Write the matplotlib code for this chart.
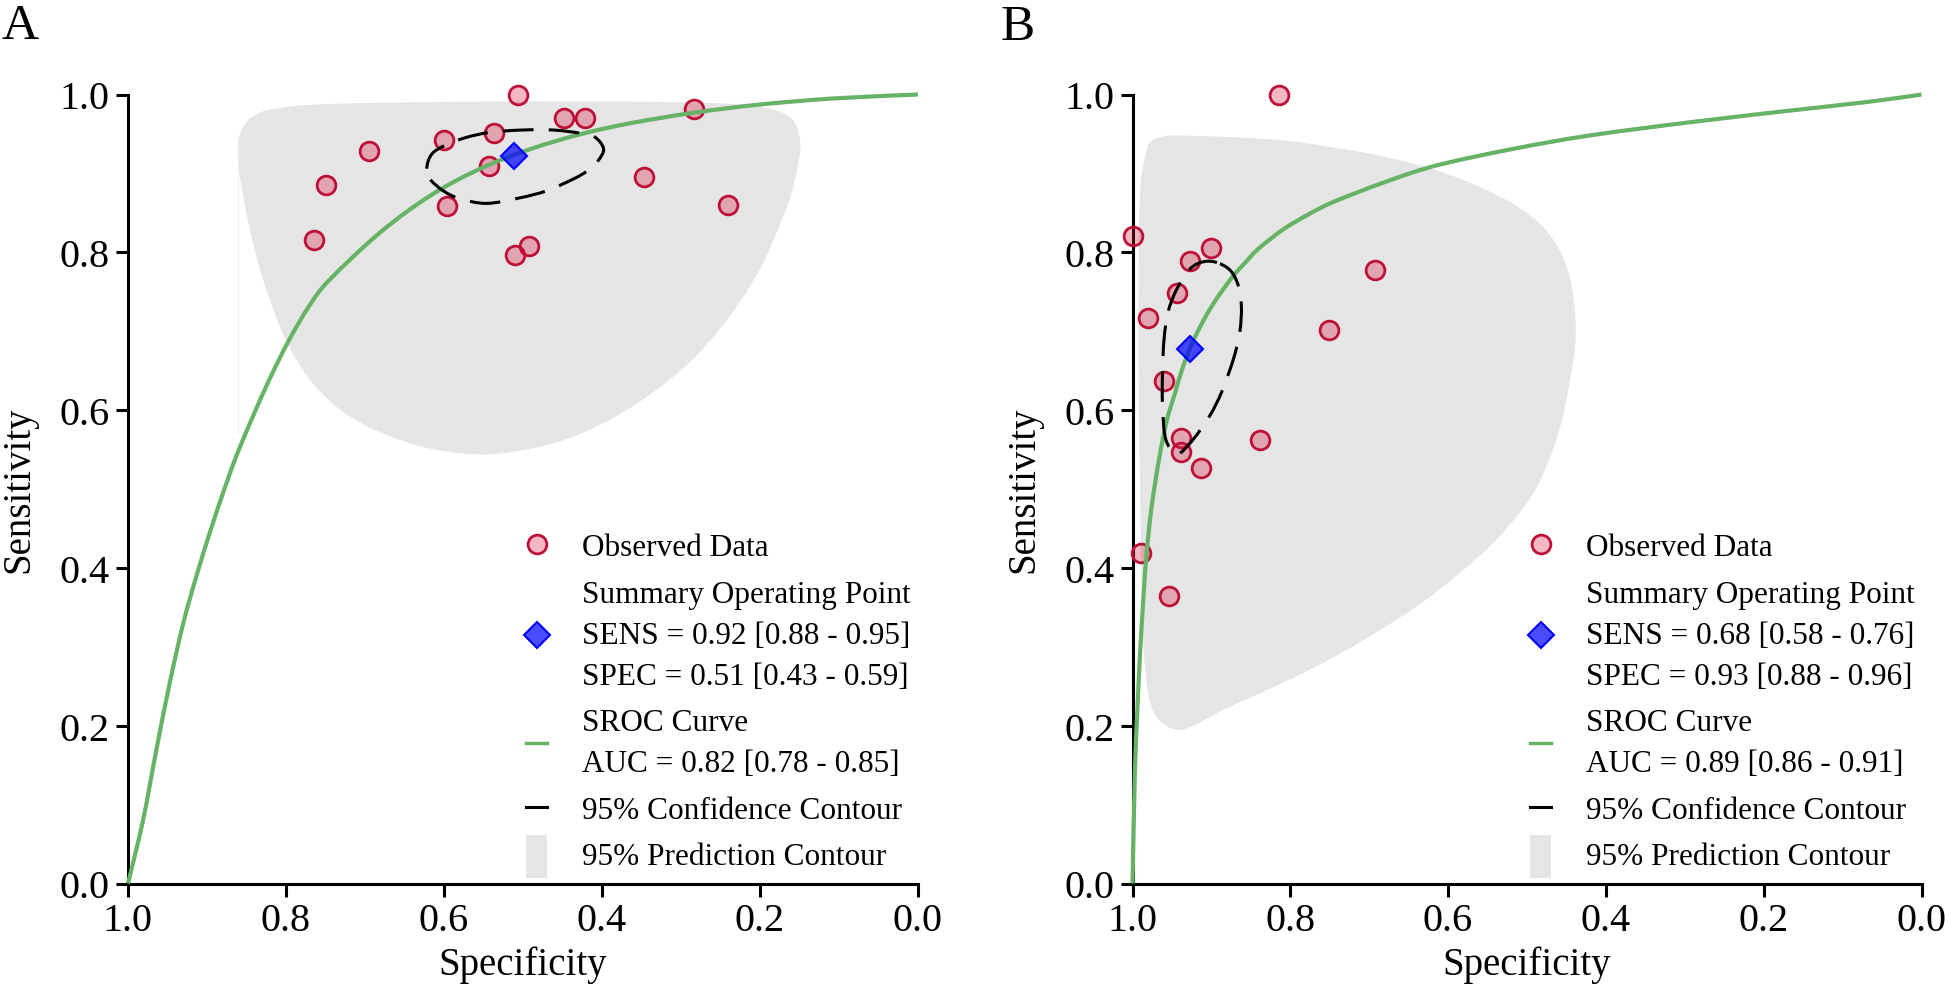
import matplotlib
matplotlib.use('Agg')
import numpy as np
from matplotlib import pyplot as plt
from matplotlib.lines import Line2D
from matplotlib.path import Path
from matplotlib.patches import Patch, PathPatch, Rectangle
from matplotlib.legend_handler import HandlerPatch

plt.rcParams['font.family'] = ['Liberation Serif', 'DejaVu Serif']

# ---------------- panel A data ----------------
obs_spec_a = [0.506, 0.448, 0.422, 0.283, 0.600, 0.537, 0.695, 0.750,
              0.765, 0.543, 0.596, 0.347, 0.240, 0.510, 0.492]
obs_sens_a = [1.000, 0.970, 0.970, 0.981, 0.942, 0.951, 0.928, 0.885,
              0.815, 0.910, 0.859, 0.895, 0.860, 0.797, 0.808]
summary_a = (0.511, 0.922)

sroc_spec_a = [1.0, 0.981, 0.964, 0.947, 0.930, 0.913, 0.896, 0.879, 0.862,
               0.841, 0.820, 0.796, 0.770, 0.745, 0.681, 0.617, 0.554, 0.490,
               0.426, 0.362, 0.283, 0.203, 0.107, 0.0]
sroc_sens_a = [0.0, 0.080, 0.170, 0.255, 0.330, 0.391, 0.446, 0.497, 0.544,
               0.594, 0.641, 0.689, 0.733, 0.765, 0.825, 0.872, 0.906, 0.931,
               0.950, 0.964, 0.977, 0.987, 0.995, 1.0]

conf_spec_a = [0.622, 0.613, 0.580, 0.542, 0.500, 0.462, 0.428, 0.409, 0.398,
               0.405, 0.419, 0.436, 0.470, 0.504, 0.546, 0.580, 0.601, 0.618]
conf_sens_a = [0.906, 0.927, 0.943, 0.952, 0.955, 0.955, 0.951, 0.946, 0.931,
               0.916, 0.903, 0.893, 0.878, 0.869, 0.862, 0.868, 0.878, 0.893]

pred_spec_a = [0.815, 0.745, 0.554, 0.362, 0.235, 0.184, 0.158, 0.149, 0.152,
               0.161, 0.177, 0.200, 0.232, 0.273, 0.324, 0.388, 0.458, 0.541,
               0.617, 0.681, 0.732, 0.770, 0.799, 0.821, 0.839, 0.852, 0.860,
               0.860, 0.850, 0.837]
pred_sens_a = [0.982, 0.988, 0.991, 0.991, 0.988, 0.981, 0.967, 0.939, 0.910,
               0.872, 0.830, 0.779, 0.728, 0.677, 0.631, 0.589, 0.559, 0.544,
               0.551, 0.572, 0.601, 0.639, 0.686, 0.741, 0.800, 0.859, 0.910,
               0.944, 0.965, 0.975]

labels_a = ['Observed Data',
            'Summary Operating Point\nSENS = 0.92 [0.88 - 0.95]\nSPEC = 0.51 [0.43 - 0.59]',
            'SROC Curve\nAUC = 0.82 [0.78 - 0.85]',
            '95% Confidence Contour',
            '95% Prediction Contour']

# ---------------- panel B data ----------------
obs_spec_b = [0.814, 1.000, 0.900, 0.927, 0.693, 0.944, 0.980, 0.751,
              0.960, 0.938, 0.939, 0.838, 0.913, 0.989, 0.954]
obs_sens_b = [1.000, 0.821, 0.805, 0.789, 0.778, 0.748, 0.717, 0.702,
              0.637, 0.565, 0.547, 0.562, 0.527, 0.419, 0.365]
summary_b = (0.927, 0.677)

sroc_spec_b = [1.0, 0.997, 0.994, 0.9905, 0.986, 0.982, 0.976, 0.967, 0.957,
               0.946, 0.937, 0.922, 0.900, 0.874, 0.857, 0.841, 0.809, 0.777,
               0.745, 0.680, 0.615, 0.518, 0.421, 0.292, 0.163, 0.065, 0.0]
sroc_sens_b = [0.0, 0.140, 0.215, 0.290, 0.365, 0.420, 0.476, 0.534, 0.585,
               0.622, 0.652, 0.690, 0.731, 0.768, 0.787, 0.804, 0.829, 0.848,
               0.864, 0.889, 0.910, 0.931, 0.948, 0.965, 0.980, 0.991, 1.0]

conf_spec_b = [0.893, 0.910, 0.927, 0.944, 0.955, 0.960, 0.962, 0.962, 0.959,
               0.952, 0.942, 0.923, 0.902, 0.887, 0.872, 0.864, 0.862, 0.866,
               0.876]
conf_sens_b = [0.787, 0.788, 0.779, 0.753, 0.724, 0.690, 0.648, 0.606, 0.568,
               0.551, 0.544, 0.563, 0.593, 0.623, 0.665, 0.699, 0.732, 0.758,
               0.777]

pred_spec_b = [0.977, 0.960, 0.939, 0.874, 0.809, 0.745, 0.680, 0.615, 0.551,
               0.499, 0.466, 0.447, 0.439, 0.439, 0.447, 0.455, 0.467, 0.490,
               0.524, 0.566, 0.629, 0.693, 0.756, 0.819, 0.883, 0.933, 0.959,
               0.976, 0.984, 0.988, 0.9905, 0.9926, 0.992, 0.990, 0.984]
pred_sens_b = [0.940, 0.947, 0.948, 0.946, 0.942, 0.933, 0.921, 0.904, 0.879,
               0.849, 0.815, 0.773, 0.722, 0.680, 0.629, 0.590, 0.550, 0.498,
               0.452, 0.410, 0.359, 0.317, 0.281, 0.250, 0.221, 0.196, 0.201,
               0.224, 0.271, 0.348, 0.503, 0.659, 0.814, 0.883, 0.922]

labels_b = ['Observed Data',
            'Summary Operating Point\nSENS = 0.68 [0.58 - 0.76]\nSPEC = 0.93 [0.88 - 0.96]',
            'SROC Curve\nAUC = 0.89 [0.86 - 0.91]',
            '95% Confidence Contour',
            '95% Prediction Contour']

ticks = [0.0, 0.2, 0.4, 0.6, 0.8, 1.0]

# styles
gray = '#e5e5e5'
green = '#66b366'
point_edge = '#be0f37'
point_face = (0.86, 0.08, 0.24, 0.3)
diamond_face = (0.0, 0.0, 1.0, 0.7)
FS_TICK = 29
FS_LABEL = 28
FS_LEG = 22.5


def smooth_path(xs, ys, closed=False):
    """Bezier path through the read points (Catmull-Rom tangents)."""
    pts = np.column_stack([xs, ys]).astype(float)
    n = len(pts)
    verts = [pts[0]]
    codes = [Path.MOVETO]
    n_seg = n if closed else n - 1
    for i in range(n_seg):
        p1 = pts[i]
        p2 = pts[(i + 1) % n]
        if closed:
            p0 = pts[i - 1]
            p3 = pts[(i + 2) % n]
        else:
            p0 = pts[max(i - 1, 0)]
            p3 = pts[min(i + 2, n - 1)]
        verts += [p1 + (p2 - p0) / 6.0, p2 - (p3 - p1) / 6.0, p2]
        codes += [Path.CURVE4] * 3
    if closed:
        verts.append(pts[0])
        codes.append(Path.CLOSEPOLY)
    return Path(np.array(verts), codes)


def tall_rect(legend, orig_handle, xdescent, ydescent, width, height, fontsize):
    h = 1.39 * fontsize
    return Rectangle((-xdescent, -ydescent + height / 2 - h / 2 - 2), width, h)


def draw_panel(ax, obs_spec, obs_sens, summary, sroc_spec, sroc_sens,
               conf_spec, conf_sens, pred_spec, pred_sens, labels):
    # prediction contour
    ax.add_patch(PathPatch(smooth_path(pred_spec, pred_sens, closed=True),
                           facecolor=gray, edgecolor='none', zorder=1))
    # observed data
    ax.plot(obs_spec, obs_sens, ls='none', marker='o', ms=13.5, mfc=point_face,
            mec=point_edge, mew=2.0, zorder=3, clip_on=False)
    # SROC curve
    ax.add_patch(PathPatch(smooth_path(sroc_spec, sroc_sens), fill=False,
                           edgecolor=green, lw=3.0, zorder=4, clip_on=False,
                           capstyle='butt'))
    # confidence contour
    ax.add_patch(PathPatch(smooth_path(conf_spec, conf_sens, closed=True),
                           fill=False, edgecolor='black', lw=2.2,
                           linestyle=(0, (10, 5)), zorder=5))
    # summary point
    ax.plot([summary[0]], [summary[1]], ls='none', marker='D', ms=13.5,
            mfc=diamond_face, mec='blue', mew=1.5, zorder=6, clip_on=False)

    ax.set_xlim(1.0, 0.0)
    ax.set_ylim(0.0, 1.0)
    ax.set_xticks(ticks)
    ax.set_yticks(ticks)
    ax.set_xticklabels([f'{t:.1f}' for t in ticks])
    ax.set_yticklabels([f'{t:.1f}' for t in ticks])
    ax.tick_params(direction='out', length=9, width=2.2, labelsize=FS_TICK, pad=4)
    for side in ['top', 'right']:
        ax.spines[side].set_visible(False)
    for side in ['left', 'bottom']:
        ax.spines[side].set_linewidth(2.2)
    ax.set_xlabel('Specificity', fontsize=FS_LABEL, labelpad=5)
    ax.set_ylabel('Sensitivity', fontsize=FS_LABEL, labelpad=16)

    handles = [
        Line2D([], [], ls='none', marker='o', ms=13.5, mfc=point_face,
               mec=point_edge, mew=2.0),
        Line2D([], [], ls='none', marker='D', ms=13.5, mfc=diamond_face,
               mec='blue', mew=1.5),
        Line2D([], [], color=green, lw=2.5),
        Line2D([], [], color='black', lw=2.2),
        Patch(facecolor=gray, edgecolor='none'),
    ]
    leg = ax.legend(handles, labels, loc='upper left', bbox_to_anchor=(0.504, 0.444),
                    frameon=False, fontsize=FS_LEG, handlelength=0.67,
                    handletextpad=1.12, labelspacing=0.56, borderpad=0,
                    borderaxespad=0, numpoints=1,
                    handler_map={Patch: HandlerPatch(patch_func=tall_rect)})
    for t in leg.get_texts():
        t.set_linespacing(1.55)


fig = plt.figure(figsize=(19.45, 9.87), dpi=100)
ax_a = fig.add_axes([128 / 1945, 1 - 884.5 / 987, 790 / 1945, 789 / 987])
ax_b = fig.add_axes([1132.5 / 1945, 1 - 884.5 / 987, 789 / 1945, 789 / 987])

draw_panel(ax_a, obs_spec_a, obs_sens_a, summary_a, sroc_spec_a, sroc_sens_a,
           conf_spec_a, conf_sens_a, pred_spec_a, pred_sens_a, labels_a)
# faint vertical artefact at the left edge of the prediction region
ax_a.plot([0.861, 0.861], [0.94, 0.571], color='#ededed', lw=0.8, zorder=1)
draw_panel(ax_b, obs_spec_b, obs_sens_b, summary_b, sroc_spec_b, sroc_sens_b,
           conf_spec_b, conf_sens_b, pred_spec_b, pred_sens_b, labels_b)

fig.text(2 / 1945, 1 - 39 / 987, 'A', fontsize=37, ha='left', va='baseline')
fig.text(1000.5 / 1945, 1 - 40 / 987, 'B', fontsize=37, ha='left', va='baseline')

fig.savefig('out.png', dpi=100)
